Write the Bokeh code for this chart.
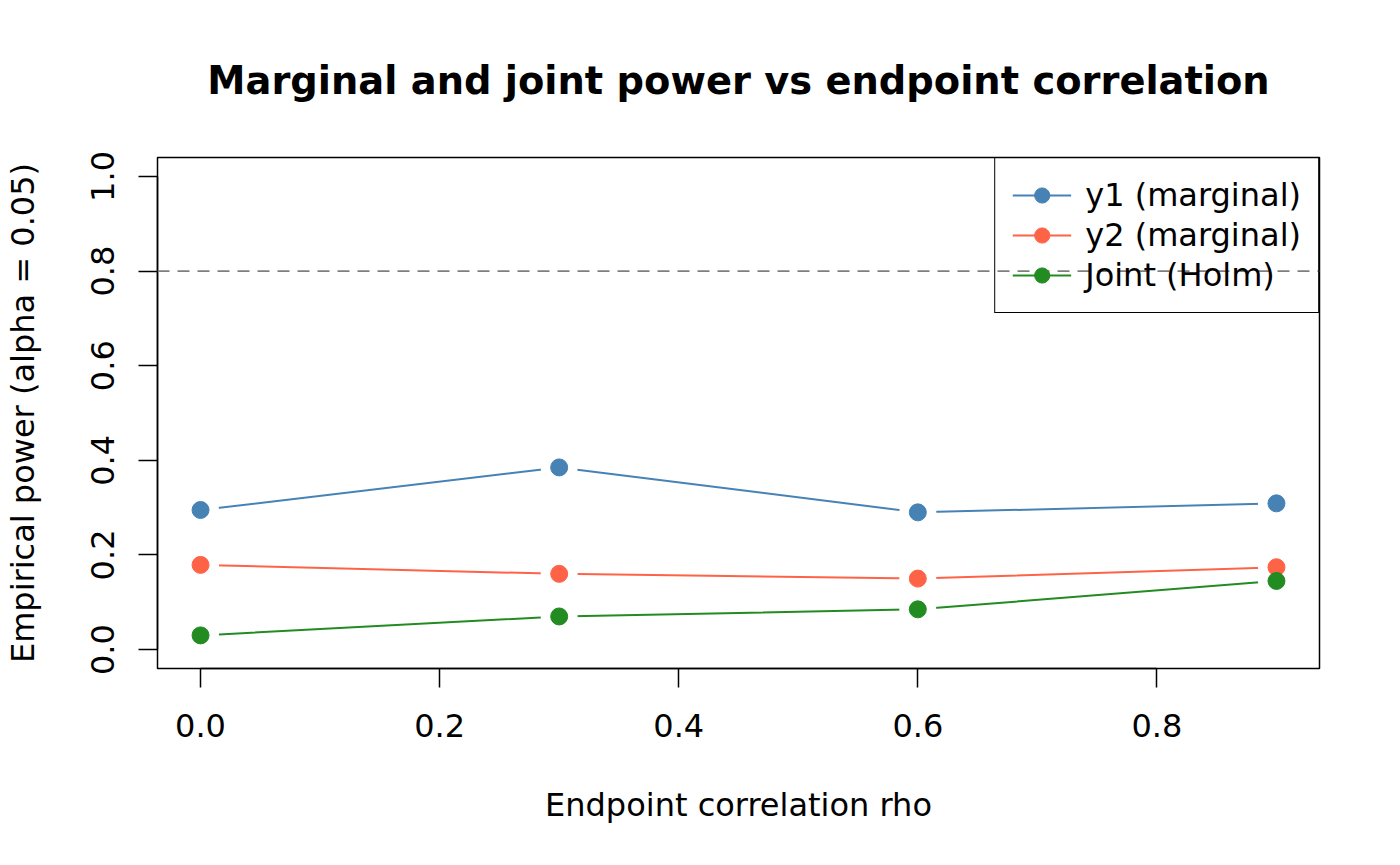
from bokeh.plotting import figure
from bokeh.models import Range1d, FixedTicker, NumeralTickFormatter, Legend, LegendItem, Span
from bokeh.embed import file_html
from bokeh.resources import INLINE

# ---- data ----
rho = [0.0, 0.3, 0.6, 0.9]
power_y1 = [0.295, 0.385, 0.290, 0.309]
power_y2 = [0.179, 0.160, 0.150, 0.174]
power_joint = [0.030, 0.070, 0.085, 0.145]
series_names = ["y1 (marginal)", "y2 (marginal)", "Joint (Holm)"]
series_colors = ["#4682B4", "#FF6347", "#228B22"]
x_ticks = [0.0, 0.2, 0.4, 0.6, 0.8]
y_ticks = [0.0, 0.2, 0.4, 0.6, 0.8, 1.0]
target_power = 0.8

FONT = "DejaVu Sans"
FS = "32px"

p = figure(
    frame_width=1162, frame_height=511,
    min_border_left=157, min_border_top=157, min_border_bottom=181, min_border_right=65,
    x_range=Range1d(-0.036, 0.936), y_range=Range1d(-0.04, 1.04),
    output_backend="svg", toolbar_location=None,
    title="Marginal and joint power vs endpoint correlation",
)
p.background_fill_color = "white"
p.border_fill_color = "white"
p.xgrid.visible = False
p.ygrid.visible = False
p.outline_line_color = "black"
p.outline_line_width = 1.5
p.outline_line_alpha = 1.0

p.title.text_font = FONT
p.title.text_font_size = "38.4px"
p.title.text_font_style = "bold"
p.title.text_color = "black"
p.title.align = "center"
p.title.standoff = 110

for ax in (p.xaxis[0], p.yaxis[0]):
    ax.major_tick_out = 19
    ax.major_tick_in = 0
    ax.minor_tick_line_color = None
    ax.axis_line_width = 1.5
    ax.major_tick_line_width = 1.5
    ax.major_label_text_font = FONT
    ax.major_label_text_font_size = FS
    ax.major_label_text_color = "black"
    ax.axis_label_text_font = FONT
    ax.axis_label_text_font_size = FS
    ax.axis_label_text_font_style = "normal"
    ax.axis_label_text_color = "black"
    ax.formatter = NumeralTickFormatter(format="0.0")

p.xaxis.ticker = FixedTicker(ticks=x_ticks)
p.xaxis.bounds = (x_ticks[0], x_ticks[-1])
p.xaxis.axis_label = "Endpoint correlation rho"
p.xaxis.major_label_standoff = 26
p.xaxis.axis_label_standoff = 46

p.yaxis.ticker = FixedTicker(ticks=y_ticks)
p.yaxis.bounds = (y_ticks[0], y_ticks[-1])
p.yaxis.axis_label = "Empirical power (alpha = 0.05)"
p.yaxis.major_label_orientation = "vertical"
p.yaxis.major_label_standoff = 24
p.yaxis.axis_label_standoff = 47

all_series = [power_y1, power_y2, power_joint]
lines = []
for ys, c in zip(all_series, series_colors):
    lines.append(p.line(rho, ys, line_color=c, line_width=2))
for ys in all_series:
    p.scatter(rho, ys, size=37, fill_color="white", line_color=None)
dots = []
for ys, c in zip(all_series, series_colors):
    dots.append(p.scatter(rho, ys, size=17, fill_color=c, line_color=c))

items = [LegendItem(label=n, renderers=[l, d]) for n, l, d in zip(series_names, lines, dots)]
legend = Legend(
    items=items, location="top_right", margin=0, padding=17, spacing=0,
    glyph_width=59, glyph_height=38, label_height=40, label_standoff=14,
    label_text_font=FONT, label_text_font_size=FS, label_text_color="black",
    border_line_color="black", border_line_width=1.5, border_line_alpha=1.0,
    background_fill_alpha=0.0,
)
p.add_layout(legend)

p.add_layout(Span(location=target_power, dimension="width", line_color="#7f7f7f",
                  line_dash="12 8", line_width=1.8, level="overlay"))

open("out.html", "w").write(file_html(p, INLINE))
